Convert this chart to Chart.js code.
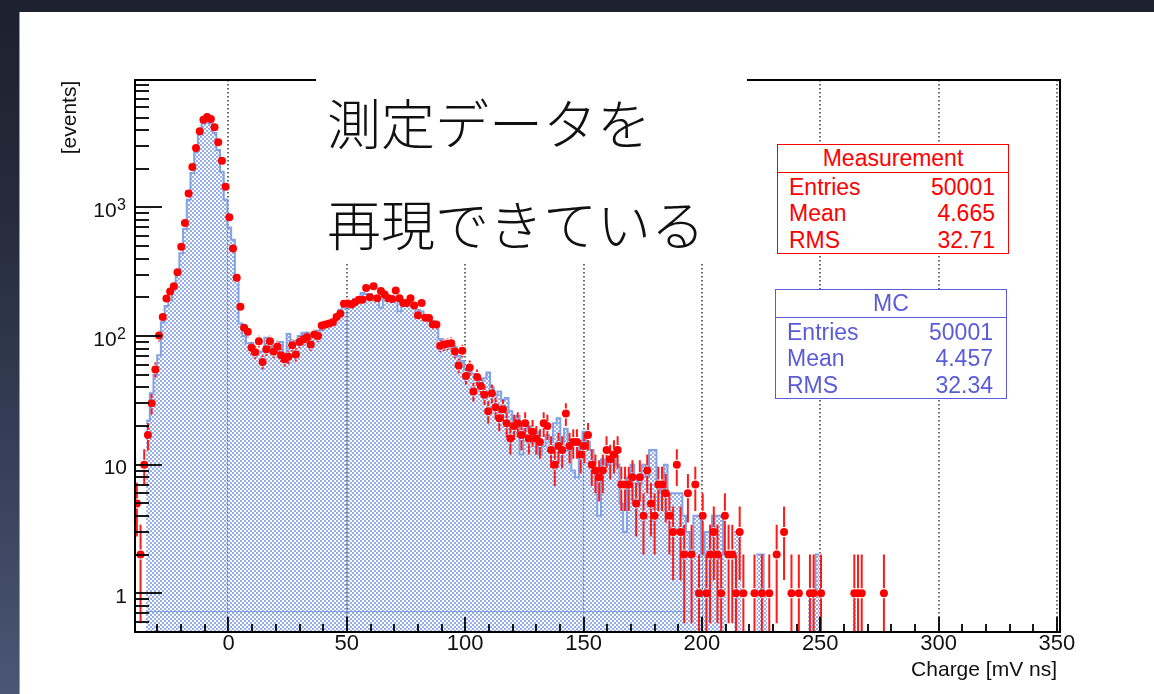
<!DOCTYPE html>
<html>
<head>
<meta charset="utf-8">
<script src="https://cdn.jsdelivr.net/npm/chart.js@4.4.1/dist/chart.umd.min.js"></script>
<style>
html, body { margin: 0; padding: 0; width: 1154px; height: 694px; overflow: hidden; }
body {
  position: relative;
  background: linear-gradient(180deg, #1d212e 0%, #252b3b 30%, #38425c 70%, #4a5674 100%);
  font-family: "Liberation Sans", Arial, sans-serif;
}
#panel { position: absolute; left: 19px; top: 12px; right: 0; bottom: 0; background: #fff; border-left: 1px solid #8e99b2; }
#chart { position: absolute; left: 0; top: 0; }
#note { position: absolute; left: 316px; top: 70px; width: 431px; height: 193px; background: #fff; }
.jp { position: absolute; left: 11px; font-family: "Noto Sans CJK JP", sans-serif; font-weight: 200;
      font-size: 54px; line-height: 54px; color: #111; white-space: nowrap; }
.stat { position: absolute; box-sizing: border-box; width: 232px; height: 110px; border: 1.5px solid; background: #fff; font-size: 23px; }
.stat .head { position: absolute; left: 0; right: 0; top: 0; height: 27px; border-bottom: 1.5px solid; text-align: center; line-height: 26px; }
.stat .row { position: absolute; left: 11px; right: 13px; height: 26px; line-height: 26px; }
.stat .row span { position: absolute; right: 0; top: 0; }
</style>
</head>
<body>
<div id="panel"></div>
<canvas id="chart" width="1154" height="694"></canvas>
<div id="note">
  <div class="jp" style="top:25px">測定データを</div>
  <div class="jp" style="top:126px">再現できている</div>
</div>
<div class="stat" id="measBox" style="left:777px; top:144px; color:#ff0000; border-color:#ff0000;"></div>
<div class="stat" id="mcBox" style="left:775px; top:289px; color:#5b5bd9; border-color:#5b5bd9;"></div>
<script>
// binning of both histograms
const binLow = -39.5;
const binWidth = 1.5625;
const xMin = -39.5, xMax = 351.3;
const yMin = 0.5, yMax = 9800;

const xMajorTicks = [0, 50, 100, 150, 200, 250, 300, 350];
const yDecades = [1, 10, 100, 1000];
const yTickLabels = [['1', ''], ['10', ''], ['10', '2'], ['10', '3']];

// measured charge spectrum (events per bin)
const measurement = [
  5, 2, 10, 17, 30, 55, 101, 141, 196, 222,
  244, 314, 494, 759, 1282, 2066, 2904, 3908, 4819, 5060,
  4880, 4200, 3210, 2312, 1451, 839, 480, 284, 169, 116,
  108, 81, 75, 91, 63, 79, 91, 76, 83, 71,
  66, 69, 85, 72, 90, 94, 98, 86, 103, 100,
  121, 123, 125, 128, 141, 149, 178, 179, 176, 183,
  192, 192, 237, 200, 244, 197, 224, 211, 197, 194,
  226, 197, 181, 181, 197, 173, 145, 181, 139, 138,
  123, 123, 84, 86, 87, 88, 76, 59, 77, 49,
  57, 37, 48, 41, 35, 26, 36, 28, 23, 27,
  21, 16, 20, 21, 17, 21, 16, 18, 16, 15,
  21, 20, 13, 10, 14, 13, 25, 14, 15, 15,
  12, 14, 17, 10, 9, 8, 9, 13, 11, 12,
  13, 7, 7, 7, 8, 5, 8, 4, 9, 5,
  4, 7, 7, 6, 4, 3, 10, 3, 2, 6,
  2, 7, 1, 4, 1, 2, 3, 2, 1, 4,
  2, 2, 1, 3, 1, 0, 0, 1, 0, 1,
  0, 1, 0, 2, 0, 3, 0, 1, 0, 1,
  0, 0, 1, 1, 0, 1, 0, 0, 0, 0,
  0, 0, 0, 0, 1, 1, 1, 0, 0, 0,
  0, 0, 1, 0, 0, 0, 0, 0, 0, 0,
  0, 0, 0, 0, 0, 0, 0, 0, 0, 0,
  0, 0, 0, 0, 0, 0, 0, 0, 0, 0,
  0, 0, 0, 0, 0, 0, 0, 0, 0, 0,
  0, 0, 0, 0, 0, 0, 0, 0, 0, 0
];

// simulated (MC) spectrum
const mc = [
  0, 0, 0, 22, 36, 50, 71, 128, 171, 190,
  240, 300, 440, 680, 1150, 1850, 2700, 3700, 4500, 4700,
  4500, 3800, 2800, 1900, 1150, 700, 560, 290, 125, 100,
  88, 88, 76, 76, 76, 97, 95, 74, 74, 90,
  72, 104, 85, 92, 100, 106, 106, 104, 104, 110,
  112, 128, 128, 134, 145, 160, 171, 171, 187, 194,
  197, 216, 212, 212, 204, 194, 166, 200, 200, 194,
  187, 156, 180, 180, 180, 171, 160, 155, 145, 139,
  131, 119, 95, 88, 86, 84, 82, 70, 64, 55,
  53, 51, 46, 42, 47, 52, 40, 35, 37, 32,
  33, 26, 22, 24, 12, 19, 20, 17, 18, 12,
  14, 17, 15, 21, 23, 15, 19, 13, 9, 8,
  14, 18, 15, 13, 9, 4, 11, 10, 11, 11,
  10, 5, 3, 8, 10, 8, 7, 10, 8, 13,
  13, 7, 6, 10, 6, 6, 6, 6, 4, 3,
  2, 4, 4, 2, 3, 3, 4, 4, 4, 2,
  2, 0, 3, 3, 3, 0, 1, 0, 2, 2,
  1, 1, 0, 0, 0, 1, 0, 0, 0, 1,
  0, 0, 1, 1, 2, 2, 0, 0, 1, 0,
  1, 0, 0, 0, 1, 1, 0, 0, 1, 0,
  1, 0, 0, 1, 0, 1, 0, 0, 0, 0,
  0, 0, 0, 0, 0, 0, 0, 0, 0, 0,
  0, 0, 0, 0, 0, 0, 0, 0, 0, 0,
  0, 0, 0, 0, 0, 0, 0, 0, 0, 0,
  0, 0, 1, 0, 0, 0, 0, 0, 0, 0
];

// thin level the MC fill sits on in the low-charge part
const floorLevel = 0.72;
const floorRange = [-34.8, 196];

const statLabels = ['Entries', 'Mean', 'RMS'];
const measStats = ['50001', '4.665', '32.71'];
const mcStats = ['50001', '4.457', '32.34'];

function fillBox(id, title, values) {
  const box = document.getElementById(id);
  let html = '<div class="head">' + title + '</div>';
  const tops = [29, 55.3, 81.5];
  statLabels.forEach((l, i) => {
    html += '<div class="row" style="top:' + tops[i] + 'px">' + l + '<span>' + values[i] + '</span></div>';
  });
  box.innerHTML = html;
}
fillBox('measBox', 'Measurement', measStats);
fillBox('mcBox', 'MC', mcStats);

const edges = [];
for (let i = 0; i <= mc.length; i++) edges.push(binLow + i * binWidth);

function stepPoints(vals) {
  const pts = [{x: edges[0], y: 0}];
  vals.forEach((v, i) => pts.push({x: edges[i], y: v}));
  pts.push({x: edges[vals.length], y: vals[vals.length - 1]});
  pts.push({x: edges[vals.length], y: 0});
  return pts;
}

const measPoints = [];
measurement.forEach((v, i) => {
  if (v > 0) measPoints.push({x: binLow + (i + 0.5) * binWidth, y: v});
});

// ROOT style dotted fill pattern
const pc = document.createElement('canvas');
pc.width = 4; pc.height = 4;
const pg = pc.getContext('2d');
pg.fillStyle = '#95aee8';
pg.fillRect(0, 0, 2, 2);
pg.fillRect(2, 2, 2, 2);
const hatch = pg.createPattern(pc, 'repeat');

const FONT = '"Liberation Sans", Arial, sans-serif';

const rootFrame = {
  id: 'rootFrame',
  beforeDatasetsDraw(chart) {
    const {ctx, chartArea: a} = chart;
    const x = chart.scales.x;
    ctx.save();
    ctx.strokeStyle = '#2a2a2a';
    ctx.lineWidth = 1.4;
    ctx.setLineDash([1.6, 2.4]);
    xMajorTicks.forEach(v => {
      const px = Math.round(x.getPixelForValue(v));
      ctx.beginPath();
      ctx.moveTo(px, a.top);
      ctx.lineTo(px, a.bottom);
      ctx.stroke();
    });
    ctx.restore();
  },
  beforeDatasetDraw(chart, args) {
    if (args.index !== 0) return;
    const {ctx, chartArea: a} = chart;
    const {x, y} = chart.scales;
    ctx.save();
    ctx.beginPath();
    ctx.rect(a.left, a.top, a.right - a.left, a.bottom - a.top);
    ctx.clip();
    ctx.strokeStyle = '#ff1a1a';
    ctx.lineWidth = 2;
    measurement.forEach((n, i) => {
      if (n <= 0) return;
      const px = x.getPixelForValue(binLow + (i + 0.5) * binWidth);
      const py = y.getPixelForValue(n);
      const e = Math.sqrt(n);
      const top = y.getPixelForValue(n + e);
      const bot = n - e > 0 ? y.getPixelForValue(n - e) : a.bottom;
      ctx.beginPath();
      if (top < py - 5) { ctx.moveTo(px, top); ctx.lineTo(px, py - 5); }
      if (bot > py + 5) { ctx.moveTo(px, py + 5); ctx.lineTo(px, bot); }
      ctx.stroke();
    });
    ctx.restore();
  },
  afterDatasetsDraw(chart) {
    const {ctx, chartArea: a} = chart;
    const {x, y} = chart.scales;
    ctx.save();
    ctx.strokeStyle = '#000';
    ctx.lineWidth = 2;
    ctx.strokeRect(a.left, a.top, a.right - a.left, a.bottom - a.top);

    // x ticks
    ctx.lineWidth = 1.8;
    for (let v = -30; v <= 350; v += 10) {
      const px = Math.round(x.getPixelForValue(v));
      const len = xMajorTicks.includes(v) ? 15 : 8;
      ctx.beginPath();
      ctx.moveTo(px, a.bottom);
      ctx.lineTo(px, a.bottom - len);
      ctx.stroke();
    }
    // y ticks (log)
    [0.1, 1, 10, 100, 1000].forEach(d => {
      for (let k = 1; k <= 9; k++) {
        const v = k * d;
        if (v < yMin || v > yMax) continue;
        const py = Math.round(y.getPixelForValue(v));
        const len = k === 1 ? 27 : 14;
        ctx.beginPath();
        ctx.moveTo(a.left, py);
        ctx.lineTo(a.left + len, py);
        ctx.stroke();
      }
    });

    ctx.fillStyle = '#111';
    ctx.textBaseline = 'alphabetic';
    ctx.textAlign = 'center';
    ctx.font = '22px ' + FONT;
    xMajorTicks.forEach(v => ctx.fillText(String(v), x.getPixelForValue(v), a.bottom + 18));

    yDecades.forEach((v, i) => {
      const py = y.getPixelForValue(v) + 9.5;
      const [base, sup] = yTickLabels[i];
      let right = 127;
      ctx.textAlign = 'right';
      if (sup) {
        ctx.font = '16px ' + FONT;
        ctx.fillText(sup, 126, py - 7);
        right = 126 - ctx.measureText(sup).width - 0.5;
      }
      ctx.font = '21px ' + FONT;
      ctx.fillText(base, right, py);
    });

    ctx.font = '21px ' + FONT;
    ctx.textAlign = 'right';
    ctx.fillText('Charge [mV ns]', 1057, 676);

    ctx.translate(75.5, 117.5);
    ctx.rotate(-Math.PI / 2);
    ctx.textAlign = 'center';
    ctx.fillText('[events]', 0, 0);
    ctx.restore();
  }
};

new Chart(document.getElementById('chart'), {
  type: 'scatter',
  data: {
    datasets: [
      {
        label: 'Measurement',
        data: measPoints,
        pointRadius: 4,
        pointBackgroundColor: '#ff0000',
        pointBorderWidth: 0,
        showLine: false
      },
      {
        type: 'line',
        label: 'floor',
        data: [
          {x: floorRange[0], y: 0}, {x: floorRange[0], y: floorLevel},
          {x: floorRange[1], y: floorLevel}, {x: floorRange[1], y: 0}
        ],
        stepped: true,
        fill: 'start',
        backgroundColor: hatch,
        borderColor: '#7b9de0',
        borderWidth: 1,
        pointRadius: 0
      },
      {
        type: 'line',
        label: 'MC',
        data: stepPoints(mc),
        stepped: true,
        fill: 'start',
        backgroundColor: hatch,
        borderColor: 'rgba(125,158,226,0.95)',
        borderWidth: 2,
        pointRadius: 0
      }
    ]
  },
  options: {
    responsive: false,
    animation: false,
    devicePixelRatio: 1,
    events: [],
    layout: { padding: { left: 135, top: 80, right: 94, bottom: 62 } },
    plugins: { legend: { display: false }, tooltip: { enabled: false } },
    scales: {
      x: { type: 'linear', min: xMin, max: xMax, bounds: 'data', display: false },
      y: { type: 'logarithmic', min: yMin, max: yMax, bounds: 'data', display: false }
    }
  },
  plugins: [rootFrame]
});
</script>
</body>
</html>
